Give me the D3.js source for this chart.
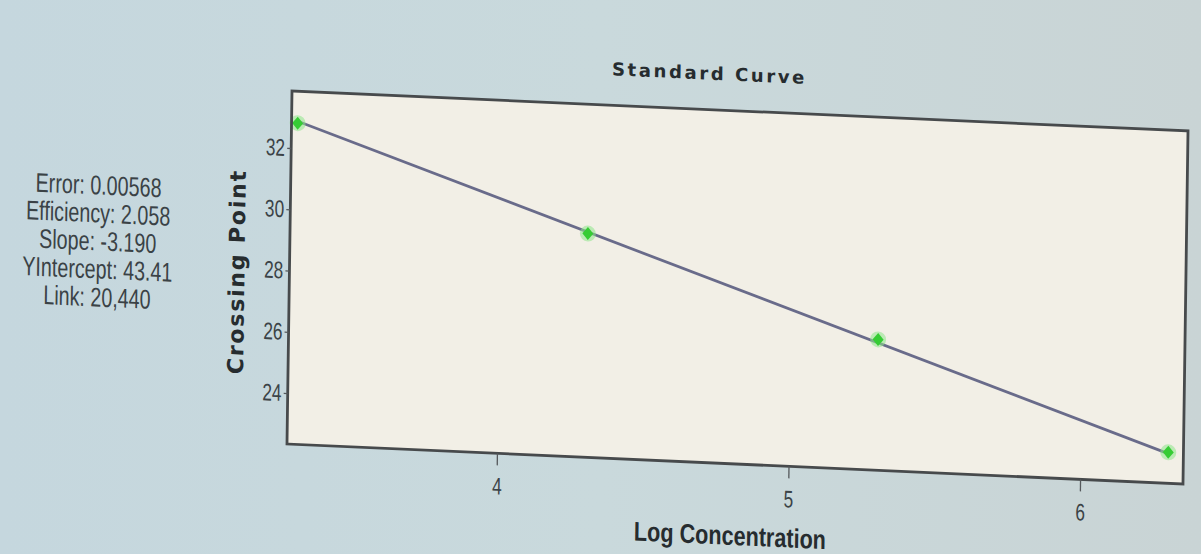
<!DOCTYPE html>
<html><head><meta charset="utf-8">
<script src="https://cdn.jsdelivr.net/npm/d3@7"></script>
<style>
html,body{margin:0;padding:0;background:#c9d8dc;overflow:hidden}
svg{display:block}
</style></head>
<body>
<svg id="chart" width="1201" height="554"></svg>
<script>
// ---- data ----
const logConc = [3.301, 4.301, 5.301, 6.301];
const crossingPoint = [32.82, 29.64, 26.61, 23.35];
const fitSlope = -3.190;
const fitIntercept = 43.41;
const xTicks = [4, 5, 6];
const yTicks = [24, 26, 28, 30, 32];
const statLines = ["Error: 0.00568", "Efficiency: 2.058", "Slope: -3.190", "YIntercept: 43.41", "Link: 20,440"];
const titleText = "Standard Curve";
const xLabel = "Log Concentration";
const yLabel = "Crossing Point";

// ---- layout ----
const W = 896, H = 353;
const NARROW = "'Liberation Sans',Arial,sans-serif";
const svg = d3.select("#chart");

const defs = svg.append("defs");
const bg = defs.append("linearGradient").attr("id","bg").attr("x1","0").attr("x2","1").attr("y1","0").attr("y2","0");
bg.append("stop").attr("offset","0").attr("stop-color","#c5d7de");
bg.append("stop").attr("offset","0.5").attr("stop-color","#c9d9dc");
bg.append("stop").attr("offset","1").attr("stop-color","#c9d4d5");
svg.append("rect").attr("width",1201).attr("height",554).attr("fill","url(#bg)");

// photo of a screen: slight affine skew
const g = svg.append("g").attr("transform","matrix(1,0.0446,-0.0142,1,292,91)");

const x = d3.scaleLinear().domain([3.280, 6.353]).range([0, W]);
const y = d3.scaleLinear().domain([22.34, 33.86]).range([H, 0]);

// plot area
g.append("rect").attr("x",0).attr("y",0).attr("width",W).attr("height",H)
  .attr("fill","#f2efe6");

// fit line
const x0 = d3.min(logConc), x1 = d3.max(logConc);
g.append("line")
  .attr("x1", x(x0)).attr("y1", y(fitIntercept + fitSlope*x0))
  .attr("x2", x(x1)).attr("y2", y(fitIntercept + fitSlope*x1))
  .attr("stroke","#696b8a").attr("stroke-width",2.8);

// points
const pts = g.selectAll(".pt").data(logConc.map((v,i)=>[v, crossingPoint[i]])).enter();
pts.append("circle").attr("cx",d=>x(d[0])).attr("cy",d=>y(d[1])).attr("r",8)
  .attr("fill","#8ee68a").attr("opacity",0.55);
pts.append("path").attr("transform",d=>`translate(${x(d[0])},${y(d[1])})`)
  .attr("d","M0,-6.5L5.5,0L0,6.5L-5.5,0Z").attr("fill","#36cc34");

// border
g.append("rect").attr("x",0).attr("y",0).attr("width",W).attr("height",H)
  .attr("fill","none").attr("stroke","#474a4c").attr("stroke-width",2.8);

// axes
const xAxis = g.append("g").attr("transform",`translate(0,${H})`)
  .call(d3.axisBottom(x).tickValues(xTicks).tickSize(12).tickPadding(12).tickFormat(d3.format("d")));
const yAxis = g.append("g")
  .call(d3.axisLeft(y).tickValues(yTicks).tickSize(4).tickPadding(2).tickFormat(d3.format("d")));
[xAxis, yAxis].forEach(a => {
  a.select(".domain").remove();
  a.selectAll(".tick line").attr("stroke","#55595c").attr("stroke-width",1.3);
  a.selectAll(".tick text").attr("fill","#3b4347")
    .style("font-family",NARROW)
    .style("font-size","24px");
});
xAxis.selectAll(".tick text").attr("transform","scale(0.72,1)");
yAxis.selectAll(".tick text").attr("transform","scale(0.72,1)").attr("x",-8.5);

// title
g.append("text").attr("x",417).attr("y",-30).attr("text-anchor","middle")
  .style("font-family","'DejaVu Sans',sans-serif").style("font-weight","bold")
  .style("font-size","18px").style("letter-spacing","2.6px").attr("fill","#262c2f")
  .text(titleText);

// axis labels
g.append("text").attr("transform","translate(444,434) scale(0.8,1)").attr("text-anchor","middle")
  .style("font-family",NARROW).style("font-weight","bold")
  .style("font-size","27px").attr("fill","#262c2f")
  .text(xLabel);
g.append("text").attr("transform","translate(-45,183) rotate(-90)").attr("text-anchor","middle")
  .style("font-family","'DejaVu Sans',sans-serif").style("font-weight","bold")
  .style("font-size","22px").style("letter-spacing","1.8px").attr("fill","#262c2f")
  .text(yLabel);

// stats block
g.selectAll(".stat").data(statLines).enter().append("text")
  .attr("transform",(d,i)=>`translate(-192,${112 + i*28}) scale(0.73,1)`).attr("text-anchor","middle")
  .style("font-family",NARROW)
  .style("font-size","27px").attr("fill","#3a4246")
  .text(d=>d);
</script>
</body></html>
